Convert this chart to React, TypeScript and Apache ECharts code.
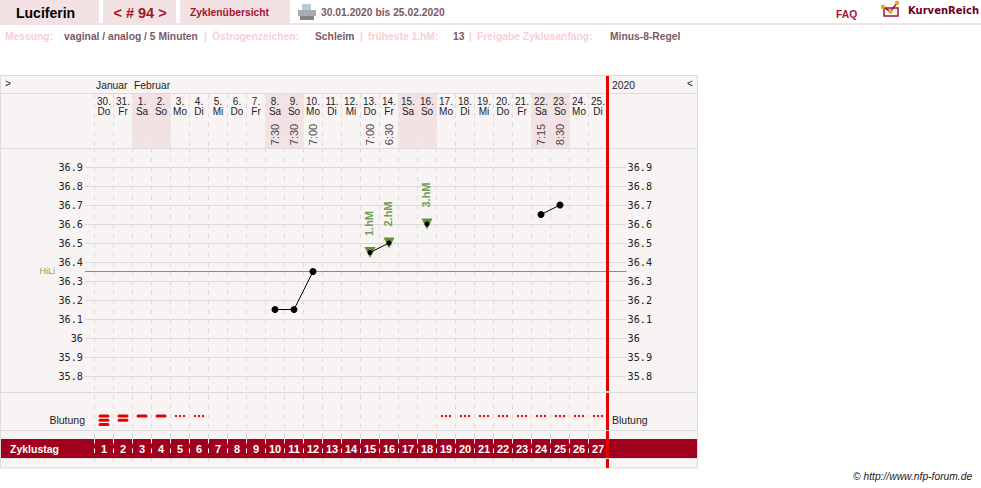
import React, { useEffect, useRef } from "react";
import * as echarts from "echarts";

const dates = ["30.","31.","1.","2.","3.","4.","5.","6.","7.","8.","9.","10.","11.","12.","13.","14.","15.","16.","17.","18.","19.","20.","21.","22.","23.","24.","25."];
const weekdays = ["Do","Fr","Sa","So","Mo","Di","Mi","Do","Fr","Sa","So","Mo","Di","Mi","Do","Fr","Sa","So","Mo","Di","Mi","Do","Fr","Sa","So","Mo","Di"];
const times: (string | null)[] = [null,null,null,null,null,null,null,null,null,"7:30","7:30","7:00",null,null,"7:00","6:30",null,null,null,null,null,null,null,"7:15","8:30",null,null];
const cycleDays = ["1","2","3","4","5","6","7","8","9","10","11","12","13","14","15","16","17","18","19","20","21","22","23","24","25","26","27"];
const weekendShade = [0,0,1,1,0,0,0,0,0,1,1,0,0,0,0,0,1,1,0,0,0,0,0,1,1,0,0];
const temps: (number | null)[] = [null,null,null,null,null,null,null,null,null,36.15,36.15,36.35,null,null,36.45,36.5,null,36.6,null,null,null,null,null,36.65,36.7,null,null];
const riseLabels: (string | null)[] = [null,null,null,null,null,null,null,null,null,null,null,null,null,null,"1.hM","2.hM",null,"3.hM",null,null,null,null,null,null,null,null,null];
const bleeding = [3,2,1,1,0.5,0.5,0,0,0,0,0,0,0,0,0,0,0,0,0.5,0.5,0.5,0.5,0.5,0.5,0.5,0.5,0.5];
const coverline = 36.35;

const GREY = "#dcdada";
const PANEL = "#f9f4f4";
const ROSE = "#f3e2e4";
const BAND = "#a0001e";
const RED = "#e40000";
const GREEN = "#5f9433";
const SANS = "'Liberation Sans', Arial, sans-serif";
const MONO = "'DejaVu Sans Mono', monospace";

const txt = (x: number, y: number, text: string, fill: string, opt: any = {}) => ({
  type: "text", x, y, silent: true, z: 10,
  style: { text, fill, font: `${opt.weight || "normal"} ${opt.size || 11}px ${opt.family || SANS}`, align: opt.align || "left", verticalAlign: "middle" },
});
const hline = (y: number) => ({ type: "rect", silent: true, z: 5, shape: { x: 1, y, width: 696, height: 1 }, style: { fill: GREY } });
const box = (x: number, y: number, width: number, height: number, fill: string, z = 4) => ({ type: "rect", silent: true, z, shape: { x, y, width, height }, style: { fill } });

const catAxis = (gridIndex: number, extra: any = {}) => ({
  type: "category", gridIndex, data: dates, boundaryGap: true,
  axisLine: { show: false }, axisTick: { show: false }, axisLabel: { show: false },
  splitLine: { show: true, interval: 0, lineStyle: { color: GREY, type: [4.5, 5], width: 1 } },
  ...extra,
});
const hiddenY = (gridIndex: number, min: number, max: number, extra: any = {}) => ({
  type: "value", gridIndex, min, max, show: false, splitLine: { show: false }, ...extra,
});

export default function App() {
  const ref = useRef<HTMLDivElement>(null);
  useEffect(() => {
    const chart = echarts.init(ref.current!, undefined, { renderer: "svg" });
    const L = 94.5, W = 513;
    const tempAxisBase = {
      type: "value", gridIndex: 2, min: 35.7, max: 37, interval: 0.1,
      axisLine: { show: false }, axisTick: { show: false },
    };
    chart.setOption({
      animation: false,
      backgroundColor: "#fff",
      grid: [
        { left: 0.5, width: 697, top: 75.5, height: 392.5, show: true, backgroundColor: PANEL, borderColor: GREY, borderWidth: 1 },
        { left: L, width: W, top: 94, height: 54 },
        { left: 85, width: 541.5, top: 148, height: 247 },
        { left: L, width: W, top: 148, height: 247 },
        { left: L, width: W, top: 395, height: 44 },
        { left: 1, width: 696, top: 439, height: 19, show: true, backgroundColor: BAND, borderWidth: 0 },
        { left: L, width: W, top: 439, height: 19 },
        { left: L, width: W, top: 458, height: 10 },
      ],
      xAxis: [
        catAxis(1),
        { type: "value", gridIndex: 2, min: 0, max: 1, show: false, splitLine: { show: false } },
        catAxis(3),
        catAxis(4),
        { type: "value", gridIndex: 5, min: 0, max: 1, show: false, splitLine: { show: false } },
        catAxis(6, {
          data: cycleDays, z: 3,
          splitLine: { show: true, interval: 0, lineStyle: { color: "#fff", type: [4.5, 5], width: 1 } },
          axisLabel: { show: true, inside: true, interval: 0, margin: 4, color: "#fff", fontSize: 11, fontWeight: "bold", fontFamily: SANS },
        }),
        catAxis(7),
        { type: "value", gridIndex: 0, min: 0, max: 1, show: false, splitLine: { show: false } },
        catAxis(1, {
          position: "top", z: 3, splitLine: { show: false },
          axisLabel: {
            show: true, inside: true, interval: 0, margin: 2, color: "#222", fontSize: 10, lineHeight: 10, fontFamily: SANS, verticalAlign: "top",
            formatter: (_: string, i: number) => `${dates[i]}\n${weekdays[i]}`,
          },
        }),
      ],
      yAxis: [
        hiddenY(1, 0, 1),
        {
          ...tempAxisBase, position: "left",
          axisLabel: { margin: 2, color: "#222", fontSize: 10.2, fontFamily: MONO, showMinLabel: false, showMaxLabel: false, formatter: (v: number) => String(+v.toFixed(1)) },
          splitLine: { show: true, showMinLine: false, showMaxLine: false, lineStyle: { color: GREY, width: 1 } },
        },
        {
          ...tempAxisBase, position: "right",
          axisLabel: { margin: 1, color: "#222", fontSize: 10.2, fontFamily: MONO, showMinLabel: false, showMaxLabel: false, formatter: (v: number) => String(+v.toFixed(1)) },
          splitLine: { show: false },
        },
        hiddenY(3, 35.7, 37),
        hiddenY(4, 0, 44),
        hiddenY(5, 0, 1),
        hiddenY(6, 0, 1),
        hiddenY(7, 0, 1),
        hiddenY(0, 0, 1),
      ],
      series: [
        {
          type: "bar", xAxisIndex: 0, yAxisIndex: 0, barWidth: "100%", data: weekendShade, z: 2,
          itemStyle: { color: ROSE }, silent: true,
        },
        {
          type: "scatter", xAxisIndex: 0, yAxisIndex: 0, symbolSize: 1, z: 4, silent: true,
          itemStyle: { color: "transparent" },
          data: times.map((t, i) => (t ? [i, 0.25] : [i, null])),
          label: {
            show: true, position: "inside", rotate: 90, color: "#111", fontSize: 11, fontFamily: SANS,
            formatter: (p: any) => times[p.dataIndex] || "",
          },
        },
        {
          type: "line", xAxisIndex: 1, yAxisIndex: 1, symbol: "none", silent: true, z: 2,
          lineStyle: { color: "#77a05a", width: 1 },
          data: [[0, coverline], [1, coverline]],
        },
        {
          type: "scatter", xAxisIndex: 2, yAxisIndex: 3, symbol: "triangle", symbolRotate: 180, symbolSize: [11, 11], z: 3, silent: true,
          itemStyle: { color: GREEN, opacity: 1 },
          data: riseLabels.map((t, i) => (t ? [i, temps[i]] : [i, null])),
          label: {
            show: true, position: "inside", offset: [29, -1], rotate: 90, color: "#6f9e55", fontSize: 11, fontWeight: "bold", fontFamily: SANS,
            formatter: (p: any) => riseLabels[p.dataIndex] || "",
          },
        },
        {
          type: "line", xAxisIndex: 2, yAxisIndex: 3, z: 4, silent: true, connectNulls: false,
          symbol: "circle",
          symbolSize: (_: any, p: any) => (riseLabels[p.dataIndex] ? 5 : 7),
          itemStyle: { color: "#000" }, lineStyle: { color: "#000", width: 1 },
          data: temps,
        },
        {
          type: "custom", xAxisIndex: 3, yAxisIndex: 4, silent: true, z: 4,
          data: bleeding.map((b, i) => [i, b]),
          renderItem: (_: any, api: any) => {
            const lv = api.value(1);
            const [cx] = api.coord([api.value(0), 0]);
            const children: any[] = [];
            if (lv === 0.5) {
              for (const dx of [-4, 0, 4]) children.push({ type: "circle", shape: { cx: cx + dx, cy: 416, r: 1.2 }, style: { fill: RED } });
            } else {
              for (let k = 0; k < lv; k++) {
                children.push({ type: "rect", shape: { x: cx - 5.5, y: 414.5 + k * 4.2, width: 11, height: 3, r: 1.5 }, style: { fill: RED } });
              }
            }
            return { type: "group", children };
          },
        },
      ],
      graphic: [
        box(0, 0, 99, 23, ROSE), box(103, 0, 73, 23, ROSE), box(180, 0, 110, 23, ROSE), box(0, 23, 981, 2, ROSE),
        txt(16, 13, "Luciferin", "#000", { size: 14, weight: "bold" }),
        txt(140, 13, "< # 94 >", "#a5142b", { size: 14.5, weight: "bold", align: "center" }),
        txt(190, 12, "Zyklenübersicht", "#a5142b", { size: 10.3, weight: "bold" }),
        box(302, 4, 9, 7, "#b8cbd8"), box(298, 10, 18, 6, "#a8adb0"), box(300, 16, 14, 4, "#7f8589"),
        txt(321, 12, "30.01.2020 bis 25.02.2020", "#7c5a62", { size: 10.3, weight: "bold" }),
        txt(836, 14, "FAQ", "#a5142b", { size: 10.3, weight: "bold" }),
        { type: "rect", silent: true, z: 6, shape: { x: 884, y: 8, width: 14, height: 8 }, style: { fill: "#fff", stroke: "#a0103c", lineWidth: 1.5 } },
        { type: "polyline", silent: true, z: 7, shape: { points: [[883, 7], [890.5, 11.5], [897, 3]] }, style: { fill: "none", stroke: "#a0103c", lineWidth: 1.5 } },
        { type: "circle", silent: true, z: 8, shape: { cx: 883, cy: 7, r: 2.2 }, style: { fill: "#f0a020" } },
        { type: "circle", silent: true, z: 8, shape: { cx: 890.5, cy: 11.5, r: 2.2 }, style: { fill: "#f0a020" } },
        { type: "circle", silent: true, z: 8, shape: { cx: 897, cy: 3, r: 2.2 }, style: { fill: "#f0a020" } },
        txt(908, 10, "KurvenReich", "#6f0020", { size: 10, weight: "bold", family: "'DejaVu Sans', sans-serif" }),
        txt(5, 36, "Messung:", "#f6d0d4", { size: 10.3, weight: "bold" }),
        txt(64, 36, "vaginal / analog / 5 Minuten", "#7c5a62", { size: 10.3, weight: "bold" }),
        txt(204, 36, "|", "#f6d0d4", { size: 10.3, weight: "bold" }),
        txt(212, 36, "Östrogenzeichen:", "#f6d0d4", { size: 10.3, weight: "bold" }),
        txt(315, 36, "Schleim", "#7c5a62", { size: 10.3, weight: "bold" }),
        txt(360, 36, "|", "#f6d0d4", { size: 10.3, weight: "bold" }),
        txt(368, 36, "früheste 1.hM:", "#f6d0d4", { size: 10.3, weight: "bold" }),
        txt(453, 36, "13", "#7c5a62", { size: 10.3, weight: "bold" }),
        txt(469, 36, "|", "#f6d0d4", { size: 10.3, weight: "bold" }),
        txt(477, 36, "Freigabe Zyklusanfang:", "#f6d0d4", { size: 10.3, weight: "bold" }),
        txt(610, 36, "Minus-8-Regel", "#7c5a62", { size: 10.3, weight: "bold" }),
        txt(5, 83, ">", "#222", { size: 10 }),
        txt(96, 85, "Januar", "#222", { size: 10.3 }),
        txt(134, 85, "Februar", "#222", { size: 10.3 }),
        txt(612, 85, "2020", "#222", { size: 10.3 }),
        txt(687, 83, "<", "#222", { size: 10 }),
        hline(93), hline(148), hline(392), hline(430), hline(458),
        box(606, 76, 3, 315, RED, 9), box(606, 393, 3, 37, RED, 9), box(606, 431, 3, 27, RED, 9), box(606, 459, 3, 9, RED, 9),
        txt(85, 420, "Blutung", "#222", { align: "right", size: 10.5 }),
        txt(612, 420, "Blutung", "#222", { size: 10.5 }),
        txt(10, 449, "Zyklustag", "#fff", { size: 10.5, weight: "bold" }),
        txt(55, 271, "HiLi", "#7ea568", { size: 9, align: "right" }),
        txt(853, 476, "© http://www.nfp-forum.de", "#222", { size: 10.3, weight: "italic" }),
      ],
    });
    return () => chart.dispose();
  }, []);
  return <div ref={ref} style={{ position: "absolute", left: 0, top: 0, width: 981, height: 488 }} />;
}
